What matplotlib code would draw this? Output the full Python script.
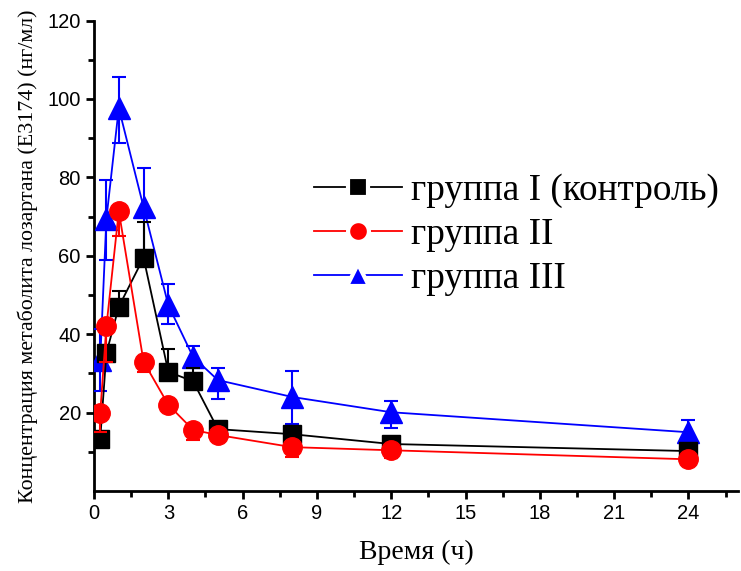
import numpy as np
import matplotlib.pyplot as plt
from matplotlib.lines import Line2D

# Время (ч)
t = [0.25, 0.5, 1, 2, 3, 4, 5, 8, 12, 24]

# группа I (контроль): показаны только верхние усы
g1 = [13.3, 35.2, 47.0, 59.5, 30.4, 28.0, 15.8, 14.5, 12.0, 10.2]
g1_lo = [0, 0, 0, 0, 0, 0, 0, 0, 0, 0]
g1_hi = [1.5, 5.3, 4.0, 9.0, 5.8, 3.5, 1.0, 1.0, 1.0, 1.0]
# группа II: только нижние усы
g2 = [20.0, 42.0, 71.4, 33.0, 22.0, 15.6, 14.3, 11.2, 10.4, 8.1]
g2_lo = [5.0, 9.0, 6.4, 2.6, 1.5, 2.6, 1.0, 2.5, 2.0, 1.0]
g2_hi = [0, 0, 0, 0, 0, 0, 0, 0, 0, 0]
# группа III
g3 = [33.4, 69.5, 97.7, 72.4, 47.4, 34.2, 28.3, 24.0, 20.1, 15.0]
g3_lo = [8.0, 10.5, 8.9, 11.0, 4.8, 2.0, 4.8, 7.0, 4.1, 2.8]
g3_hi = [8.0, 9.8, 7.9, 10.0, 5.4, 2.8, 3.1, 6.6, 2.9, 3.0]

labels = ["группа I (контроль)", "группа II", "группа III"]

fig = plt.figure(figsize=(7.41, 5.71), dpi=100)
ax = fig.add_axes([0.1269, 0.140, 0.869, 0.824])

ax.errorbar(t, g3, yerr=[g3_lo, g3_hi], color="blue", marker="^", markersize=16, lw=1.3,
            capsize=5, elinewidth=1.5, capthick=1.5, zorder=3)
ax.errorbar(t, g1, yerr=[g1_lo, g1_hi], color="black", marker="s", markersize=13, lw=1.3,
            capsize=5, elinewidth=1.5, capthick=1.5, zorder=4)
ax.errorbar(t, g2, yerr=[g2_lo, g2_hi], color="red", marker="o", markersize=14, lw=1.3,
            capsize=5, elinewidth=1.5, capthick=1.5, zorder=5)

ax.set_xlim(0, 26)
ax.set_ylim(0, 120)
ax.set_xticks(np.arange(0, 25, 3))
ax.set_xticks(np.arange(1.5, 26, 3), minor=True)
ax.set_yticks([20, 40, 60, 80, 100, 120])
ax.set_yticks(np.arange(10, 120, 20), minor=True)

for s in ["top", "right"]:
    ax.spines[s].set_visible(False)
for s in ["left", "bottom"]:
    ax.spines[s].set_linewidth(2)
ax.tick_params(which="major", direction="out", length=6, width=2, labelsize=14.5)
ax.tick_params(which="minor", direction="out", length=4, width=2)
for lab in ax.get_xticklabels() + ax.get_yticklabels():
    lab.set_family("Liberation Sans")

ax.set_xlabel("Время (ч)", family="Liberation Serif", fontsize=20, labelpad=12)
ax.set_ylabel("Концентрация метаболита лозартана (E3174) (нг/мл)",
              family="Liberation Serif", fontsize=15.8, labelpad=7)

# легенда: белая обводка маркера даёт разрыв линии как в Origin
handles = [
    Line2D([], [], color="black", lw=1.3, marker="s", markersize=14.5,
           markeredgecolor="white", markeredgewidth=3, markerfacecolor="black"),
    Line2D([], [], color="red", lw=1.3, marker="o", markersize=15,
           markeredgecolor="white", markeredgewidth=3, markerfacecolor="red"),
    Line2D([], [], color="blue", lw=1.3, marker="^", markersize=16.5,
           markeredgecolor="white", markeredgewidth=3, markerfacecolor="blue"),
]
ax.legend(handles, labels, loc="center left", bbox_to_anchor=(0.29, 0.545),
          frameon=False, prop={"family": "Liberation Serif", "size": 26.8},
          handlelength=2.35, handletextpad=0.26, labelspacing=0.26)

fig.savefig("out.png", dpi=100)
